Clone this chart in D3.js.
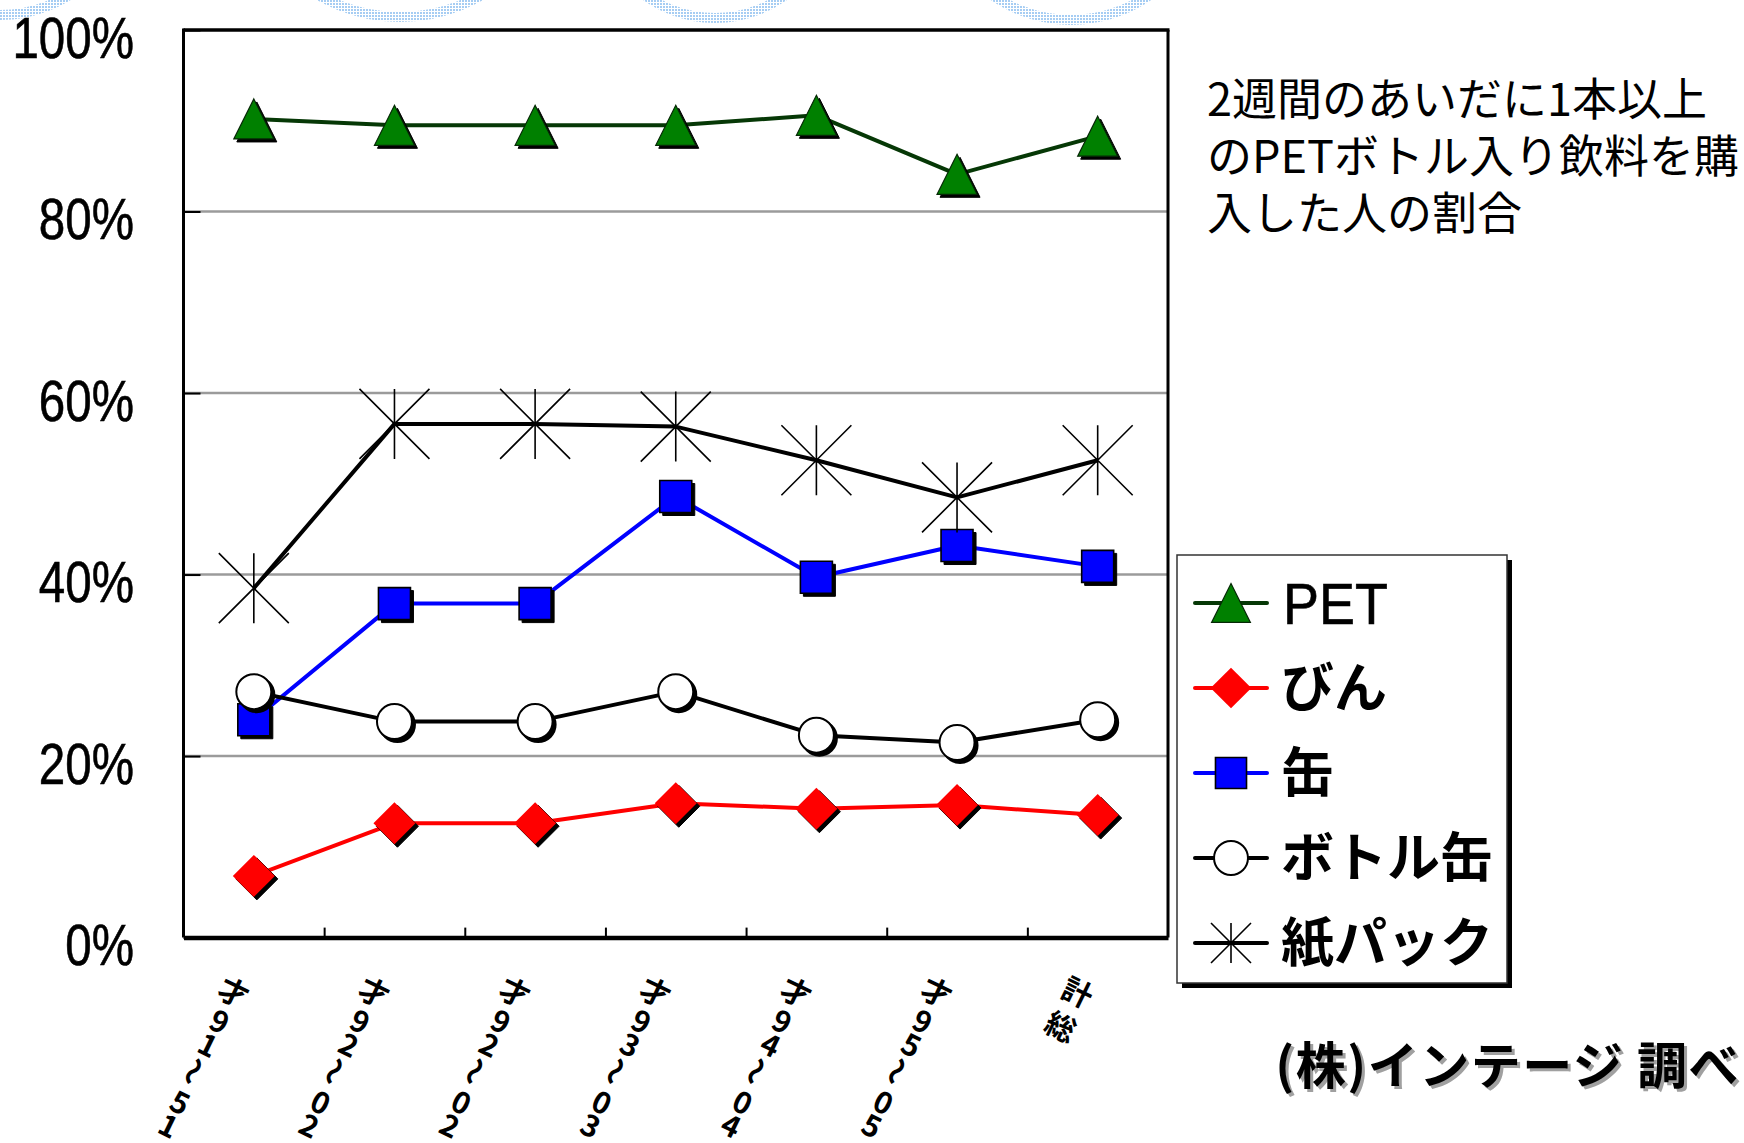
<!DOCTYPE html>
<html><head><meta charset="utf-8">
<script src="https://cdn.jsdelivr.net/npm/d3@7"></script>
<style>html,body{margin:0;padding:0;background:#fff;}svg{display:block}</style>
</head><body>
<svg id="chart" width="1744" height="1143"></svg>
<script>
// Age groups along the x axis
const categories = ["15～19才", "20～29才", "20～29才", "30～39才", "40～49才", "50～59才", "総計"];
// Share of buyers (%) per container type
const petValues = [90.2, 89.5, 89.5, 89.5, 90.6, 84.1, 88.3];
const binValues = [6.8, 12.6, 12.6, 14.8, 14.2, 14.6, 13.5];
const kanValues = [24.0, 36.8, 36.8, 48.6, 39.7, 43.2, 40.9];
const bottleKanValues = [27.1, 23.8, 23.8, 27.1, 22.3, 21.5, 24.0];
const kamiPackValues = [38.5, 56.6, 56.6, 56.3, 52.6, 48.5, 52.6];
const seriesNames = ["PET", "びん", "缶", "ボトル缶", "紙パック"];
const yTicks = [0, 20, 40, 60, 80, 100];
const gridValues = [20, 40, 60, 80];
const noteLines = ["2週間のあいだに1本以上", "のPETボトル入り飲料を購", "入した人の割合"];
const sourceText = "(株)インテージ 調べ";

const series = [
  {name: seriesNames[0], values: petValues, line: "#063806", marker: "triangle", fill: "#008000"},
  {name: seriesNames[1], values: binValues, line: "#ff0000", marker: "diamond", fill: "#ff0000"},
  {name: seriesNames[2], values: kanValues, line: "#0000ff", marker: "square", fill: "#0000ff"},
  {name: seriesNames[3], values: bottleKanValues, line: "#000000", marker: "circle", fill: "#ffffff"},
  {name: seriesNames[4], values: kamiPackValues, line: "#000000", marker: "star", fill: "none"}
];

const svg = d3.select("#chart");
const plot = {left: 183.5, right: 1168, top: 30, bottom: 937.6};
const JP = "'Noto Sans CJK JP', 'Noto Sans', sans-serif";
const LATIN = "'Liberation Sans', Arial, sans-serif";

const x = d3.scalePoint().domain(d3.range(categories.length)).range([plot.left, plot.right]).padding(0.5);
const xEdge = d3.scaleLinear().domain([0, categories.length]).range([plot.left, plot.right]);
const y = d3.scaleLinear().domain([0, 100]).range([plot.bottom, plot.top]);

// dotted light-blue rings along the top edge
const defs = svg.append("defs");
const pat = defs.append("pattern").attr("id", "dots").attr("width", 3).attr("height", 3).attr("patternUnits", "userSpaceOnUse");
pat.append("rect").attr("width", 3).attr("height", 3).attr("fill", "#ffffff");
pat.append("rect").attr("width", 2).attr("height", 2).attr("fill", "#a6cdf3");
const rings = [[0, -115, 130], [400, -146, 163], [715, -101, 119], [1071, -116, 136]];
svg.append("g").selectAll("circle").data(rings).join("circle")
  .attr("cx", d => d[0]).attr("cy", d => d[1]).attr("r", d => d[2])
  .attr("fill", "none").attr("stroke", "url(#dots)").attr("stroke-width", 10);

// plot area
svg.append("rect").attr("x", plot.left).attr("y", plot.top)
  .attr("width", plot.right - plot.left).attr("height", plot.bottom - plot.top).attr("fill", "#fff");

svg.append("g").selectAll("line").data(gridValues).join("line")
  .attr("x1", plot.left).attr("x2", plot.right)
  .attr("y1", d => y(d)).attr("y2", d => y(d))
  .attr("stroke", "#9b9b9b").attr("stroke-width", 2.5);

// y axis
const yAxis = d3.axisLeft(y).tickValues(yTicks).tickFormat(d => d + "%").tickSize(-17).tickPadding(49.5);
const gy = svg.append("g").attr("transform", `translate(${plot.left},0)`).call(yAxis);
gy.select(".domain").remove();
gy.selectAll(".tick line").attr("stroke", "#000").attr("stroke-width", 2);
gy.selectAll(".tick text")
  .attr("font-family", LATIN).attr("font-size", 58).attr("fill", "#000")
  .attr("x", -49.5 / 0.82).attr("dy", "27px").attr("transform", "scale(0.82,1)")
  .attr("stroke", "#000").attr("stroke-width", 0.6);

// x axis: ticks at category boundaries
const xAxis = d3.axisBottom(xEdge).tickValues(d3.range(1, categories.length)).tickSize(-10).tickSizeOuter(0).tickFormat("");
const gx = svg.append("g").attr("transform", `translate(0,${plot.bottom})`).call(xAxis);
gx.select(".domain").attr("stroke", "#000").attr("stroke-width", 4.5);
gx.selectAll(".tick line").attr("stroke", "#000").attr("stroke-width", 2);

// frame
const frame = svg.append("g").attr("stroke", "#000").attr("fill", "none");
frame.append("line").attr("x1", plot.left).attr("x2", plot.left).attr("y1", plot.top - 1.5).attr("y2", plot.bottom).attr("stroke-width", 3);
frame.append("line").attr("x1", plot.left).attr("x2", plot.right + 1.5).attr("y1", plot.top).attr("y2", plot.top).attr("stroke-width", 3.5);
frame.append("line").attr("x1", plot.right).attr("x2", plot.right).attr("y1", plot.top).attr("y2", plot.bottom).attr("stroke-width", 3);

// marker shapes
function markerPath(type, s) {
  switch (type) {
    case "triangle": return `M0,${-s}L${s},${s}L${-s},${s}Z`;
    case "diamond": return `M0,${-s}L${s},0L0,${s}L${-s},0Z`;
    case "square": return `M${-s},${-s}H${s}V${s}H${-s}Z`;
    case "star": return `M0,${-s}V${s}M${-s},${-s}L${s},${s}M${s},${-s}L${-s},${s}`;
  }
}
function drawMarker(g, sr, scale, shadow) {
  const t = sr.marker;
  const sizes = {triangle: 20, diamond: 21, square: 16, circle: 17.5, star: 35};
  let s = sizes[t] * scale;
  if (t === "star" && scale < 1) s = 20;
  const add = (sel, fill, stroke, sw) => {
    if (t === "circle") sel.append("circle").attr("r", s).attr("fill", fill).attr("stroke", stroke).attr("stroke-width", sw);
    else sel.append("path").attr("d", markerPath(t, s)).attr("fill", fill).attr("stroke", stroke).attr("stroke-width", sw).attr("stroke-linejoin", "miter");
  };
  if (shadow && t !== "star") add(g.append("g").attr("transform", "translate(3,3)"), "#000", "#000", t === "circle" ? 2 : 1);
  if (t === "star") add(g, "none", "#000", 1.6);
  else if (t === "diamond") add(g, sr.fill, "none", 0);
  else if (t === "triangle") add(g, sr.fill, "#062806", 1.2);
  else if (t === "square") add(g, sr.fill, "#000", 1.6);
  else add(g, sr.fill, "#000", 2);
}

const line = d3.line().x((d, i) => x(i)).y(d => y(d));
series.forEach(sr => {
  const g = svg.append("g");
  g.append("path").attr("d", line(sr.values)).attr("fill", "none")
    .attr("stroke", sr.line).attr("stroke-width", 4).attr("stroke-linejoin", "round");
  sr.values.forEach((v, i) => {
    drawMarker(g.append("g").attr("transform", `translate(${x(i)},${y(v)})`), sr, 1, true);
  });
});

// category labels: upright glyphs stacked along a slanted line
const tilt = 26;
const dir = [-Math.sin(tilt * Math.PI / 180), Math.cos(tilt * Math.PI / 180)];
const adv = ch => /[0-9]/.test(ch) ? 26 : 38;
const gl = svg.append("g").attr("font-family", JP).attr("font-weight", 700).attr("font-size", 30).attr("fill", "#000");
categories.forEach((label, i) => {
  const chars = Array.from(label);
  const n = chars.length;
  const pos = new Array(n);
  pos[n - 1] = [x(i) - 19.5, 991];
  for (let k = n - 2; k >= 0; k--) {
    const gap = (adv(chars[k]) + adv(chars[k + 1])) / 2;
    pos[k] = [pos[k + 1][0] + gap * dir[0], pos[k + 1][1] + gap * dir[1]];
  }
  chars.forEach((ch, k) => {
    gl.append("text").attr("text-anchor", "middle").attr("dominant-baseline", "central")
      .attr("transform", `translate(${pos[k][0]},${pos[k][1]}) rotate(${ch === "～" ? tilt + 90 : tilt})`)
      .text(ch);
  });
});

// legend
const lg = svg.append("g");
lg.append("rect").attr("x", 1182).attr("y", 560).attr("width", 330).attr("height", 428).attr("fill", "#000");
lg.append("rect").attr("x", 1177).attr("y", 555).attr("width", 330).attr("height", 428)
  .attr("fill", "#fff").attr("stroke", "#333").attr("stroke-width", 1.5);
const rowY = d3.scalePoint().domain(seriesNames).range([603, 943]);
series.forEach(sr => {
  const ry = rowY(sr.name);
  const row = lg.append("g").attr("transform", `translate(0,${ry})`);
  row.append("line").attr("x1", 1195).attr("x2", 1267).attr("stroke", sr.line).attr("stroke-width", 4).attr("stroke-linecap", "round");
  drawMarker(row.append("g").attr("transform", "translate(1231,0)"), sr, 0.97, false);
  if (sr.name === "PET") {
    row.append("text").attr("transform", "translate(1283,21) scale(0.93,1)")
      .attr("font-family", LATIN).attr("font-size", 58).attr("fill", "#000")
      .attr("stroke", "#000").attr("stroke-width", 0.6).text(sr.name);
  } else {
    row.append("text").attr("x", 1281).attr("y", 19)
      .attr("font-family", JP).attr("font-weight", 700).attr("font-size", 53).attr("fill", "#000").text(sr.name);
  }
});

// note text
svg.append("g").selectAll("text").data(noteLines).join("text")
  .attr("x", 1207).attr("y", (d, i) => 116 + i * 57)
  .attr("font-family", JP).attr("font-size", 45).attr("fill", "#000").text(d => d);

// source credit with soft shadow
const src = svg.append("g").attr("font-family", JP).attr("font-weight", 700).attr("font-size", 50)
  .attr("text-anchor", "end").attr("letter-spacing", 1.5);
src.append("text").attr("x", 1743).attr("y", 1087).attr("fill", "#a0a0a0").text(sourceText);
src.append("text").attr("x", 1740).attr("y", 1084).attr("fill", "#000").text(sourceText);
</script>
</body></html>
